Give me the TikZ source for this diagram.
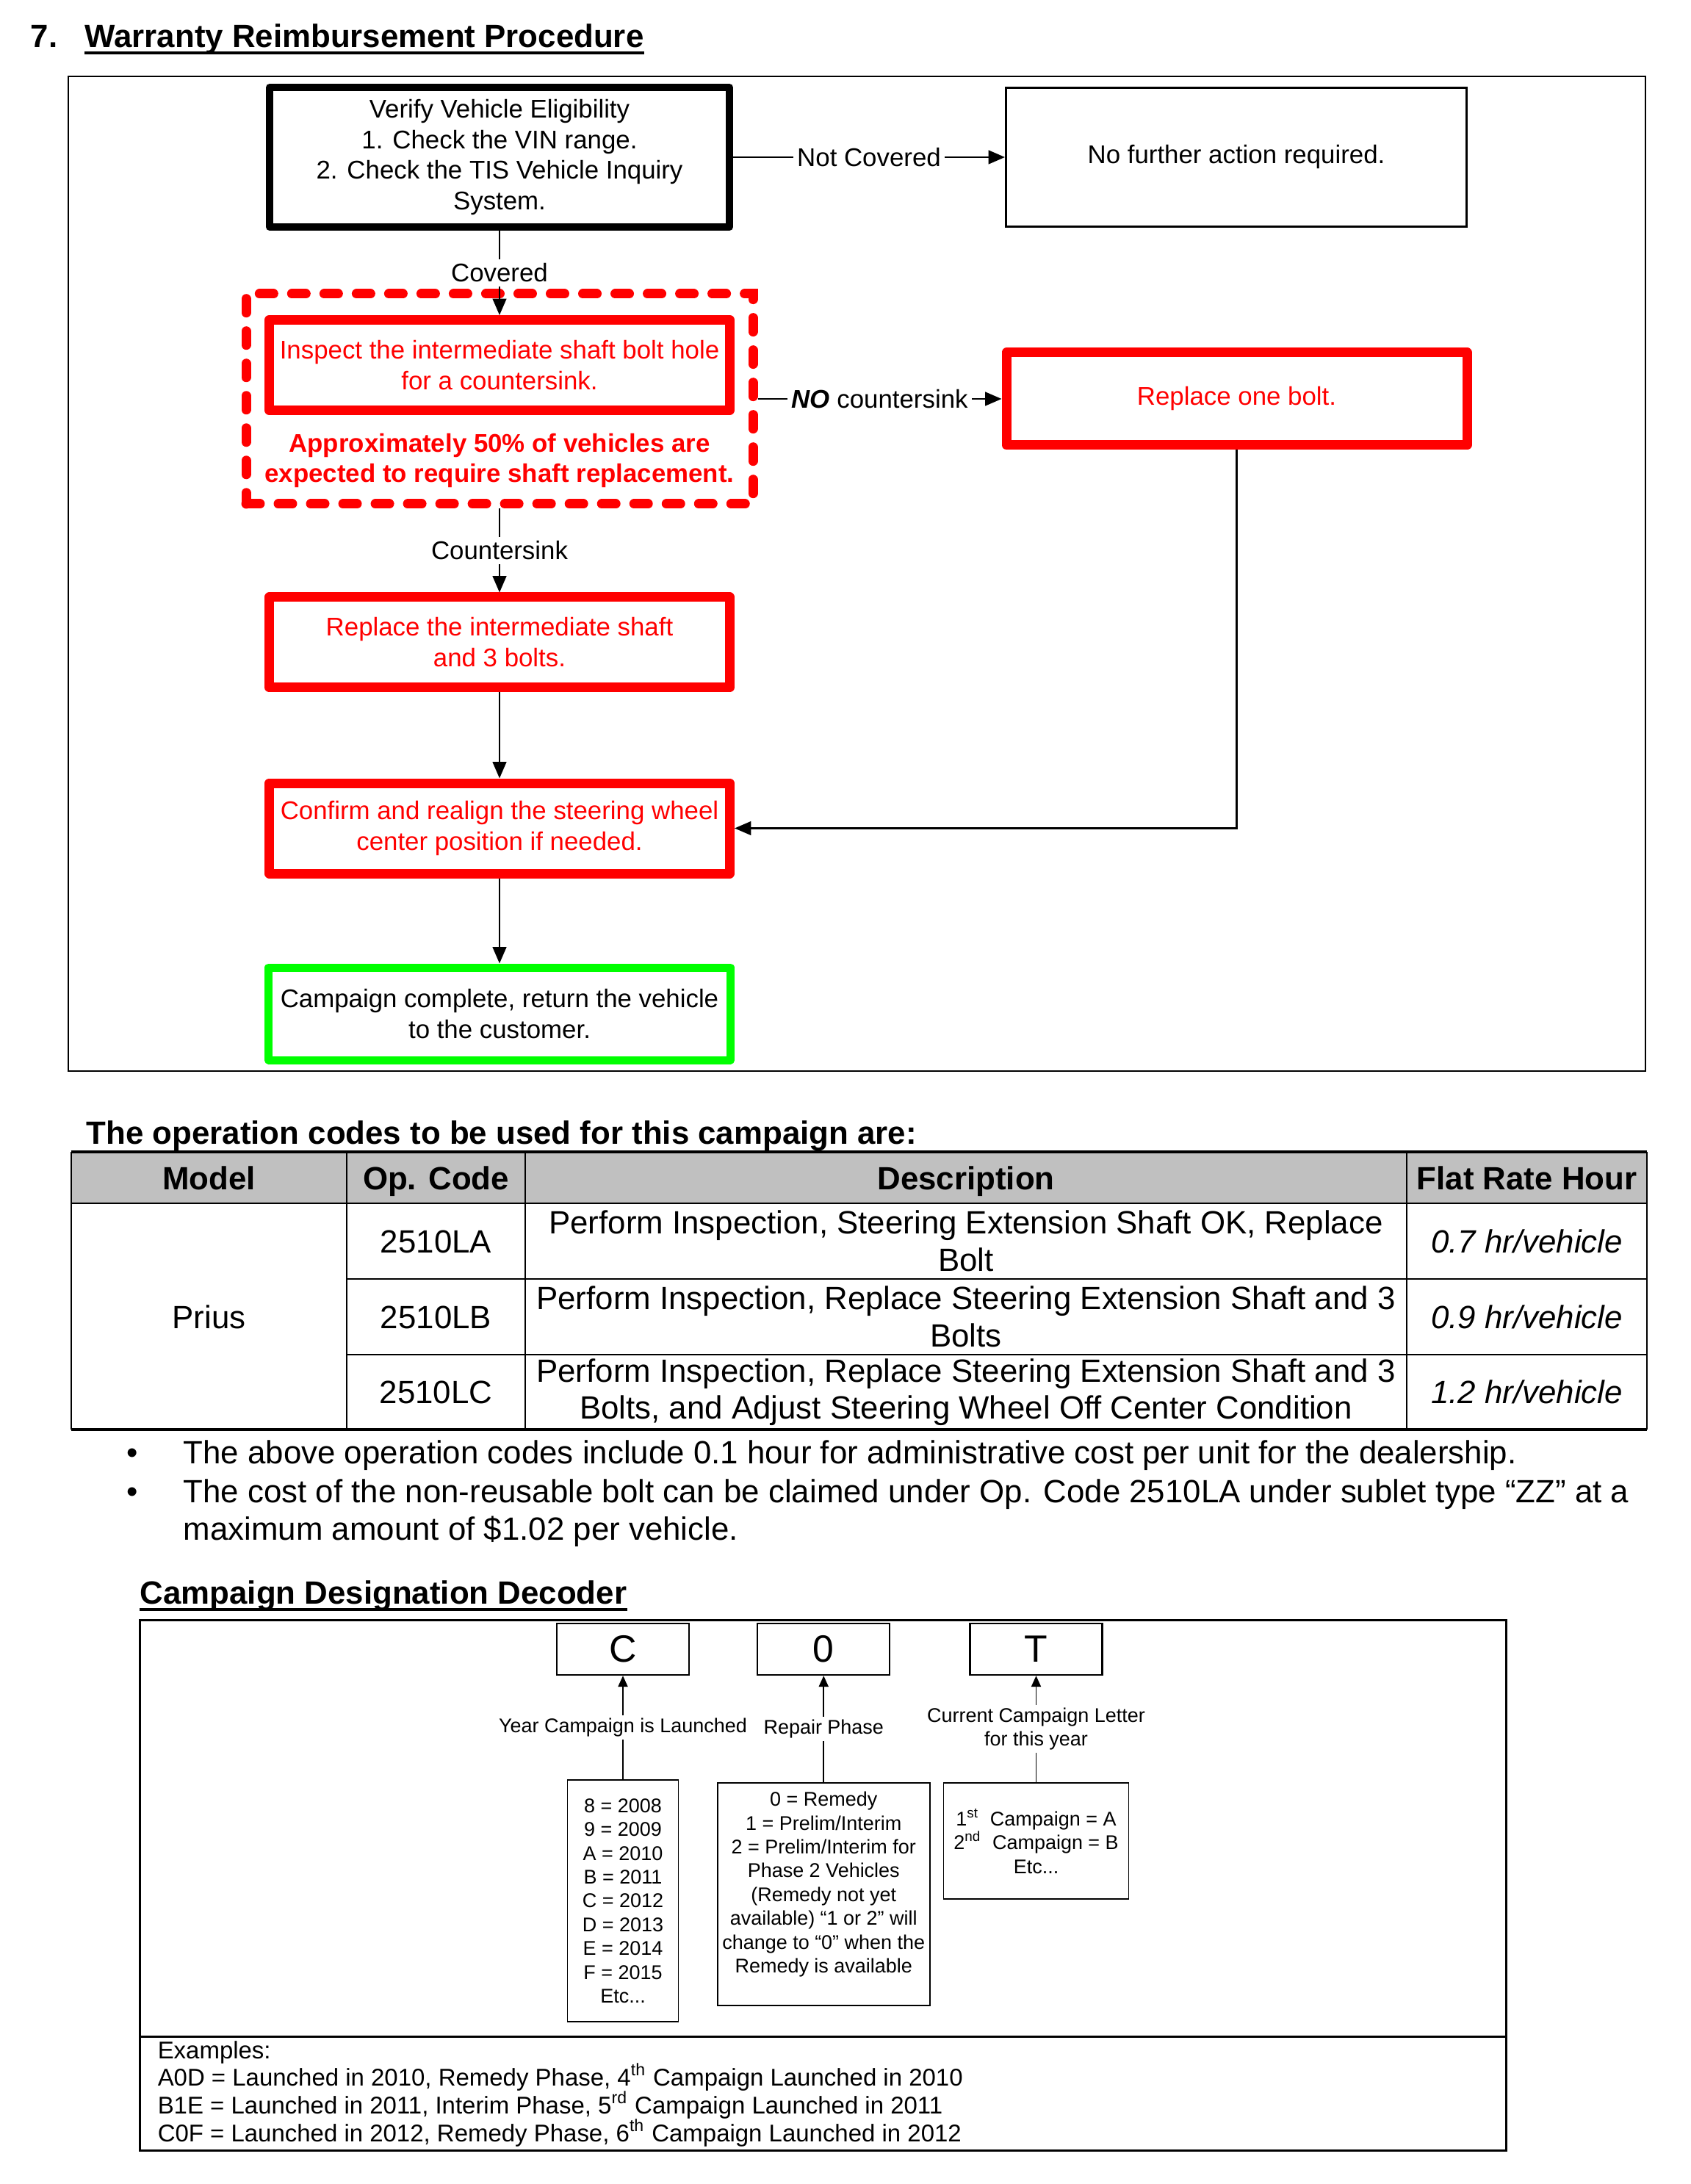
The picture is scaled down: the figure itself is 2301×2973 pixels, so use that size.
\documentclass[tikz,border=0pt]{standalone}
\usepackage{fontspec}
\setmainfont{Liberation Sans}
\usepackage{xcolor}
\definecolor{AlertRed}{HTML}{FF0000}
\definecolor{DoneGreen}{HTML}{00FF00}
\definecolor{HeadGray}{HTML}{C0C0C0}
\usepackage{tikz}
\usetikzlibrary{arrows.meta,positioning}
\newlength\pxu
\setlength\pxu{0.09383mm}

\begin{document}
\begin{tikzpicture}[
  x=\pxu, y=-1\pxu,
  every node/.style={inner sep=0pt},
  flow/.style={font=\fontsize{9.3pt}{11.2pt}\selectfont, align=center},
  blackbox/.style={flow, draw=black, line width=10\pxu, line join=round,
                   minimum width=626\pxu, minimum height=190\pxu},
  thinbox/.style={flow, draw=black, line width=3\pxu,
                  minimum width=627\pxu, minimum height=189\pxu},
  redbox/.style={flow, draw=AlertRed, text=AlertRed, line width=13\pxu, line join=round,
                 minimum width=627\pxu, minimum height=123\pxu},
  greenbox/.style={flow, draw=DoneGreen, line width=11\pxu, line join=round,
                   minimum width=629\pxu, minimum height=126\pxu},
  dashbox/.style={draw=AlertRed, line width=13\pxu, line cap=round,
                  dash pattern=on 1.78mm off 2.35mm,
                  minimum width=690\pxu, minimum height=286\pxu},
  warnnote/.style={font=\fontsize{9.3pt}{11.2pt}\selectfont\bfseries, text=AlertRed, align=center},
  arr/.style={-{Triangle[length=6pt,width=5pt]}, line width=0.65pt},
  lbl/.style={flow, fill=white, inner sep=1.5pt},
  sechead/.style={font=\fontsize{11.7pt}{13.5pt}\selectfont\bfseries},
  tabcell/.style={font=\fontsize{11.7pt}{13.5pt}\selectfont, align=center},
  letterbox/.style={draw, line width=0.6pt, minimum width=180\pxu, minimum height=70\pxu,
                    font=\fontsize{13.8pt}{16pt}\selectfont},
  codebox/.style={draw, line width=0.5pt, align=center,
                  font=\fontsize{7.2pt}{8.65pt}\selectfont},
  declbl/.style={fill=white, inner sep=1pt, align=center,
                 font=\fontsize{7.2pt}{8.7pt}\selectfont},
  smallarr/.style={-{Triangle[length=4pt,width=3.5pt]}, line width=0.45pt},
  exline/.style={anchor=base west, font=\fontsize{8.8pt}{10.1pt}\selectfont}
]
  \useasboundingbox (0,0) rectangle (2301,2973);
  \fill[white] (0,0) rectangle (2301,2973);

  % section title
  \node[sechead, anchor=base west] (secno) at (41,65) {7.};
  \node[sechead, anchor=base west] (title) at (115,65) {Warranty Reimbursement Procedure};
  \draw[line width=4\pxu] ([yshift=-7.5\pxu]title.base west) -- ([yshift=-7.5\pxu]title.base east);

  % flow chart
  \draw[line width=0.7pt] (93,104) rectangle (2240,1458);
  \node[blackbox] (verify) at (680,214)
    {Verify Vehicle Eligibility\\1. Check the VIN range.\\2. Check the TIS Vehicle Inquiry\\System.};
  \node[thinbox, right=370\pxu of verify] (nofurther) {No further action required.};
  \node[redbox, below=115\pxu of verify] (inspect)
    {Inspect the intermediate shaft bolt hole\\for a countersink.};
  \node[warnnote] (warn) at (680,627)
    {Approximately 50\% of vehicles are\\expected to require shaft replacement.};
  \node[dashbox] (group) at (680,543) {};
  \node[redbox, right=332\pxu of group, minimum height=126\pxu] (rob) {Replace one bolt.};
  \node[redbox, below=114\pxu of group] (shaft) {Replace the intermediate shaft\\and 3 bolts.};
  \node[redbox, below=117\pxu of shaft] (confirm)
    {Confirm and realign the steering wheel\\center position if needed.};
  \node[greenbox, below=116\pxu of confirm] (done)
    {Campaign complete, return the vehicle\\to the customer.};

  \draw[arr] (verify) -- node[lbl] {Not Covered} (nofurther);
  \draw[arr] (verify) -- node[lbl] {Covered} (inspect);
  \draw[arr] (group) -- node[lbl] {\textbf{\textit{NO}} countersink} (rob);
  \draw[arr] (group) -- node[lbl] {Countersink} (shaft);
  \draw[arr] (shaft) -- (confirm);
  \draw[arr] (confirm) -- (done);
  \draw[arr] (rob) |- (confirm);

  % operation codes table
  \node[sechead, anchor=base west] (tabtitle) at (117,1557)
    {The operation codes to be used for this campaign are:};
  \fill[HeadGray] (97,1568) rectangle (2242,1638);
  \draw[line width=1pt] (97,1568) -- (2242,1568);
  \draw[line width=1pt] (97,1946) -- (2242,1946);
  \draw[line width=0.6pt] (97,1568) -- (97,1946) (2242,1568) -- (2242,1946)
    (472,1568) -- (472,1946) (715,1568) -- (715,1946) (1915,1568) -- (1915,1946)
    (97,1638) -- (2242,1638) (472,1741) -- (2242,1741) (472,1844) -- (2242,1844);
  \foreach \cx/\name/\txt in {284.5/hmodel/Model, 593.5/hcode/Op. Code,
                              1315/hdesc/Description, 2078.5/hrate/Flat Rate Hour}
    \node[tabcell, font=\fontsize{11.7pt}{13.5pt}\selectfont\bfseries, anchor=base]
      (\name) at (\cx,1619) {\txt};
  \node[tabcell, anchor=base] (prius) at (284.5,1808) {Prius};
  \foreach \code/\cy/\desc/\rate in {
      2510LA/1689.5/{Perform Inspection, Steering Extension Shaft OK, Replace\\Bolt}/0.7,
      2510LB/1792.5/{Perform Inspection, Replace Steering Extension Shaft and 3\\Bolts}/0.9,
      2510LC/1895/{Perform Inspection, Replace Steering Extension Shaft and 3\\Bolts, and Adjust Steering Wheel Off Center Condition}/1.2} {
    \node[tabcell, anchor=base] (code\code) at (593.5,\cy+15.5) {\code};
    \node[tabcell] (desc\code) at (1315,\cy) {\desc};
    \node[tabcell, anchor=base] (rate\code) at (2078.5,\cy+15.5) {\itshape \rate{} hr/vehicle};
  }

  % notes
  \node[tabcell, anchor=base] (bul1) at (180,1992) {\textbullet};
  \node[tabcell, anchor=base west] (note1) at (249,1992)
    {The above operation codes include 0.1 hour for administrative cost per unit for the dealership.};
  \node[tabcell, anchor=base] (bul2) at (180,2045) {\textbullet};
  \node[tabcell, anchor=base west] (note2) at (249,2045)
    {The cost of the non-reusable bolt can be claimed under Op. Code 2510LA under sublet type “ZZ” at a};
  \node[tabcell, anchor=base west] (note2b) at (249,2096)
    {maximum amount of \$1.02 per vehicle.};

  % campaign designation decoder
  \node[sechead, anchor=base west] (dectitle) at (190,2183) {Campaign Designation Decoder};
  \draw[line width=4\pxu] ([yshift=-7.5\pxu]dectitle.base west) -- ([yshift=-7.5\pxu]dectitle.base east);
  \draw[line width=0.8pt] (190,2205) rectangle (2050,2927);
  \draw[line width=0.8pt] (190,2772) -- (2050,2772);

  \node[letterbox] (cbox) at (848,2245) {C};
  \node[letterbox, right=91\pxu of cbox] (zbox) {0};
  \node[letterbox, right=107\pxu of zbox] (tbox) {T};

  \node[codebox, below=141\pxu of cbox, minimum width=151\pxu, minimum height=329\pxu] (yearbox)
    {8 = 2008\\9 = 2009\\A = 2010\\B = 2011\\C = 2012\\D = 2013\\E = 2014\\F = 2015\\Etc...};
  \node[codebox, below=145\pxu of zbox, minimum width=289\pxu, minimum height=303\pxu] (repairbox)
    {0 = Remedy\\1 = Prelim/Interim\\2 = Prelim/Interim for\\Phase 2 Vehicles\\(Remedy not yet\\
     available) “1 or 2” will\\change to “0” when the\\Remedy is available\\\mbox{}};
  \node[codebox, below=145\pxu of tbox, minimum width=252\pxu, minimum height=158\pxu] (lettbox)
    {1\textsuperscript{st}\ \ Campaign = A\\2\textsuperscript{nd}\ \ Campaign = B\\Etc...};

  \draw[smallarr] (yearbox) -- node[declbl] {Year Campaign is Launched} (cbox);
  \draw[smallarr] (repairbox) -- node[declbl] {Repair Phase} (zbox);
  \draw[smallarr] (lettbox) -- node[declbl] {Current Campaign Letter\\for this year} (tbox);

  \foreach \i/\txt in {0/{Examples:},
      1/{A0D = Launched in 2010, Remedy Phase, 4\textsuperscript{th} Campaign Launched in 2010},
      2/{B1E = Launched in 2011, Interim Phase, 5\textsuperscript{rd} Campaign Launched in 2011},
      3/{C0F = Launched in 2012, Remedy Phase, 6\textsuperscript{th} Campaign Launched in 2012}}
    \node[exline] (ex\i) at (214,{2802+37.9*\i}) {\txt};
\end{tikzpicture}
\end{document}
